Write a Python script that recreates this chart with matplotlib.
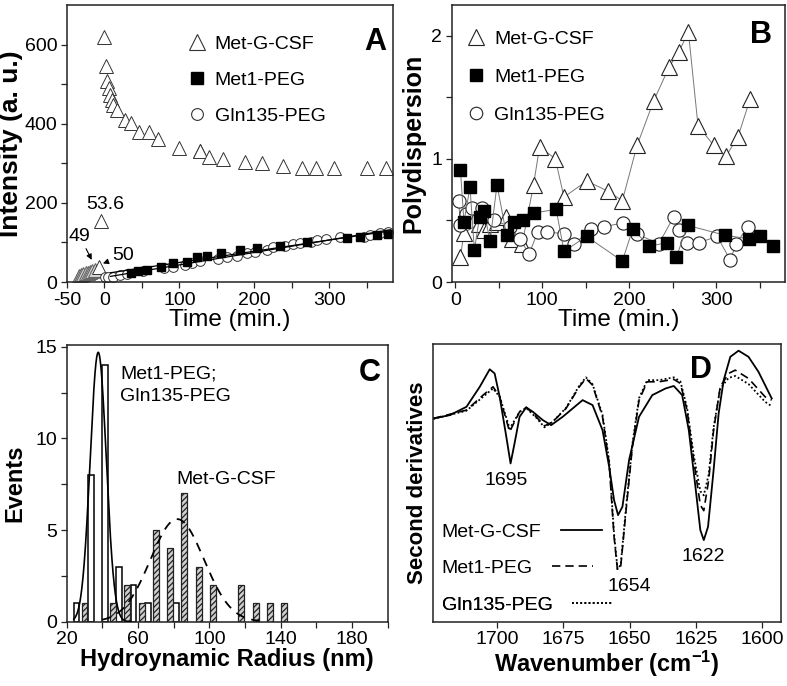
import numpy as np
import matplotlib.pyplot as plt
from matplotlib.lines import Line2D

plt.rcParams['font.family'] = ['Liberation Sans', 'DejaVu Sans']
plt.rcParams['axes.unicode_minus'] = False
plt.rcParams['hatch.linewidth'] = 0.9
plt.rcParams['mathtext.fontset'] = 'custom'
plt.rcParams['mathtext.rm'] = 'Liberation Sans'
plt.rcParams['mathtext.bf'] = 'Liberation Sans:bold'
plt.rcParams['mathtext.it'] = 'Liberation Sans:italic'

# ---- panel A: scattered intensity vs time ----
a_csf_t = [0, 2, 3, 6, 8, 10, 12, 17, 28, 36, 46, 59, 71, 99, 127, 128, 139, 158, 188, 210, 238, 264, 282, 307, 350, 376]
a_csf_i = [619, 545, 507, 490, 473, 461, 448, 435, 410, 402, 380, 380, 361, 338, 332, 330, 317, 311, 303, 300, 292, 289, 287, 287, 287, 287]
a_pre_t = [-34, -31, -28, -25, -22, -19, -16, -13]   # grey triangles before mixing
a_pre_i = [16, 18, 20, 22, 24, 26, 28, 30]
a_p536 = (-5, 155)
a_p50 = (-7, 37)
a_met1_t = [35, 45, 57, 75, 92, 110, 123, 137, 155, 181, 203, 234, 270, 324, 341, 364, 379]
a_met1_i = [22, 27, 30, 39, 47, 51, 64, 66, 73, 81, 87, 91, 102, 111, 113, 119, 121]
a_gln_t = [1, 5, 11, 21, 30, 52, 79, 92, 108, 117, 128, 152, 164, 177, 190, 201, 217, 225, 241, 252, 261, 275, 283, 295, 315, 346, 355, 368, 379]
a_gln_i = [13, 12, 13, 18, 20, 29, 35, 39, 43, 47, 52, 58, 64, 66, 73, 77, 81, 88, 91, 95, 98, 102, 105, 108, 113, 115, 119, 123, 126]

# ---- panel B: polydispersity vs time ----
b_csf_t = [6, 10, 27, 33, 40, 48, 58, 65, 77, 90, 97, 115, 125, 151, 175, 192, 209, 228, 246, 257, 268, 279, 297, 311, 325, 339]
b_csf_p = [0.20, 0.40, 0.47, 0.42, 0.47, 0.49, 0.53, 0.35, 0.31, 0.79, 1.10, 1.00, 0.69, 0.82, 0.74, 0.66, 1.11, 1.47, 1.75, 1.87, 2.03, 1.27, 1.11, 1.02, 1.18, 1.49]
b_met1_t = [6, 10, 17, 22, 28, 33, 40, 48, 59, 67, 78, 90, 116, 125, 151, 192, 204, 223, 243, 254, 267, 310, 338, 350, 365]
b_met1_p = [0.91, 0.49, 0.77, 0.26, 0.53, 0.58, 0.33, 0.79, 0.38, 0.49, 0.50, 0.56, 0.59, 0.25, 0.37, 0.17, 0.43, 0.29, 0.32, 0.20, 0.46, 0.38, 0.35, 0.37, 0.29]
b_gln_t = [4, 6, 12, 19, 31, 45, 63, 74, 85, 95, 105, 125, 137, 156, 171, 193, 209, 234, 251, 257, 266, 280, 301, 316, 323, 336]
b_gln_p = [0.66, 0.46, 0.55, 0.60, 0.60, 0.50, 0.45, 0.35, 0.23, 0.41, 0.41, 0.39, 0.31, 0.43, 0.45, 0.48, 0.39, 0.31, 0.53, 0.42, 0.32, 0.32, 0.37, 0.18, 0.31, 0.45]

# ---- panel C: radius histograms ----
c_peg_r = [25.5, 33.5, 41.5, 49.5, 57.5, 65.5, 81.5]
c_peg_n = [1, 8, 14, 3, 2, 1, 1]
c_csf_r = [30, 46, 54, 62, 70, 78, 86, 94, 102, 118, 126, 134, 142]
c_csf_n = [1, 1, 2, 1, 5, 4, 7, 3, 2, 2, 1, 1, 1]
c_peg_fit = (14.7, 37.7, 4.5)    # amplitude, centre, width of gaussian fit
c_csf_fit = (5.6, 82.0, 15.0)

# ---- panel D: second derivative spectra ----
d_csf_wn = [1724, 1717.75, 1711.5, 1706.5, 1702.75, 1700.9, 1699, 1696.5, 1694.9, 1693.4, 1691.5, 1689, 1686.5, 1682.75,
            1679.6, 1675.25, 1667.75, 1664, 1660.25, 1657.75, 1655.9, 1654.4, 1652.75, 1650.25, 1646.5, 1641.5, 1636.5,
            1633.4, 1630.25, 1627.75, 1625.25, 1623.4, 1622.1, 1620.5, 1618.4, 1616.5, 1614.6, 1612.1, 1609, 1605.25,
            1601.5, 1596.5]
d_csf_v = [73.2, 74.4, 77.4, 84.6, 90.9, 89.4, 81, 66.6, 57, 64.2, 73.8, 77.2, 75.6, 72.6, 70.8, 73.8, 79.8, 78, 69,
           55.8, 43.8, 38.4, 41.4, 58.2, 73.8, 81.6, 84, 84.9, 81.6, 69, 48.6, 33, 29.4, 34.2, 54.6, 75, 87, 95.4, 97.6,
           95.4, 90, 80.4]
d_peg_wn = [1724, 1711.5, 1705.25, 1701.5, 1699, 1696.5, 1695.25, 1693.4, 1691.5, 1689, 1685.25, 1682.1, 1679, 1674,
            1669, 1666.5, 1664, 1660.25, 1657.75, 1655.9, 1654.6, 1653.4, 1651.5, 1649, 1646.5, 1643.4, 1639, 1633.4,
            1630.9, 1628.4, 1625.9, 1623.4, 1622.1, 1620.25, 1618.4, 1615.9, 1612.75, 1610.25, 1605.25, 1599, 1596.5]
d_met1_v = [73.2, 76.2, 81.6, 84.6, 81, 72.6, 68.4, 72, 75.6, 77.2, 73.8, 70.5, 72, 76.8, 84.6, 87.6, 85.2, 73.8, 57,
            30.6, 18.6, 19.8, 39, 63, 79.8, 86.4, 86.4, 87.3, 85.8, 76.2, 58.2, 42, 40, 51, 69, 84.6, 89.4, 90.6, 87.6,
            81, 79.8]
d_gln_v = [73.0, 76.0, 81.0, 84.0, 81, 73.5, 69.5, 72.5, 75.6, 77.0, 73.5, 70.0, 72, 77.0, 85.0, 88.0, 85.5, 74.5,
           58, 31.5, 19.0, 20.5, 40, 64, 80.5, 87.0, 87.0, 88.0, 86.5, 77.0, 60, 47, 45.5, 53, 70, 84.0, 87.8, 88.5,
           85.6, 79.2, 77.6]
d_peaks = [(1696.5, 51, '1695'), (1650.3, 12.6, '1654'), (1622.2, 23.4, '1622')]

TICK = 14
LEG = 14
LETTER = 22

fig = plt.figure(figsize=(7.87, 6.86), dpi=100)
axA = fig.add_axes([0.0851, 0.5889, 0.4142, 0.4038])
axB = fig.add_axes([0.5740, 0.5889, 0.4235, 0.4038])
axC = fig.add_axes([0.0847, 0.0937, 0.4079, 0.4034])
axD = fig.add_axes([0.5506, 0.0937, 0.4418, 0.4048])

for ax in (axA, axB, axC, axD):
    for s in ax.spines.values():
        s.set_linewidth(1.1)
        s.set_color('#222222')
    ax.tick_params(direction='out', length=4, width=0.9, labelsize=TICK, color='#222222', pad=3)
    ax.tick_params(which='minor', direction='out', length=4, width=0.9, color='#222222')

# ---------- A ----------
axA.plot(a_pre_t, a_pre_i, '^', ms=9.5, mfc='#d8d8d8', mec='#666666', mew=0.8, ls='none')
axA.plot(a_csf_t, a_csf_i, '^', ms=10, mfc='white', mec='#333333', mew=0.7, ls='none')
axA.plot(*a_p536, '^', ms=10, mfc='white', mec='#333333', mew=0.7)
axA.plot(*a_p50, '^', ms=10, mfc='white', mec='#333333', mew=0.7)
axA.plot(a_gln_t, a_gln_i, 'o', ms=7, mfc='white', mec='#333333', mew=0.7, ls='none')
axA.plot(a_met1_t, a_met1_i, 's', ms=5.5, mfc='black', mec='black', ls='none')
xx = np.array([8, 382])
for t, v in ((a_met1_t, a_met1_i), (a_gln_t, a_gln_i)):
    k = np.polyfit(t, v, 1)
    axA.plot(xx, np.polyval(k, xx), color='black', lw=0.9)
axA.text(a_p536[0] + 6, a_p536[1] + 40, '53.6', fontsize=TICK, ha='center', va='center')
axA.annotate('49', xy=(-17, 56), xytext=(-33, 116), fontsize=TICK, ha='center', va='center',
             arrowprops=dict(arrowstyle='-|>', mutation_scale=8, lw=0.8, color='black', shrinkA=1, shrinkB=0))
axA.annotate('50', xy=(-2, 47), xytext=(25, 66), fontsize=TICK, ha='center', va='center',
             arrowprops=dict(arrowstyle='-|>', mutation_scale=8, lw=0.8, color='black', shrinkA=2, shrinkB=0))
axA.set_xlim(-50, 385)
axA.set_ylim(0, 700)
axA.set_xticks([-50, 0, 100, 200, 300])
axA.set_xticks([50, 150, 250, 350], minor=True)
axA.set_yticks([0, 200, 400, 600])
axA.set_yticks([100, 300, 500], minor=True)
axA.set_xlabel('Time (min.)', fontsize=17.5, labelpad=0)
axA.set_ylabel('Intensity (a. u.)', fontsize=19, fontweight='bold', labelpad=1)
axA.text(0.945, 0.866, 'A', transform=axA.transAxes, fontsize=LETTER, fontweight='bold', ha='center', va='center')
hA = [Line2D([], [], ls='none', marker='^', ms=11, mfc='white', mec='#333333', mew=0.8),
      Line2D([], [], ls='none', marker='s', ms=9, mfc='black', mec='black'),
      Line2D([], [], ls='none', marker='o', ms=8.5, mfc='white', mec='#333333', mew=0.8)]
axA.legend(hA, ['Met-G-CSF', 'Met1-PEG', 'Gln135-PEG'], loc='upper left', bbox_to_anchor=(0.37, 0.89),
           frameon=False, fontsize=LEG, handlelength=1.0, handletextpad=0.4, labelspacing=0.95,
           borderpad=0, borderaxespad=0)

# ---------- B ----------
grey = '#777777'
axB.plot(b_csf_t, b_csf_p, '-', color=grey, lw=0.7, marker='^', ms=12, mfc='white', mec='#222222', mew=0.8)
axB.plot(b_gln_t, b_gln_p, '-', color=grey, lw=0.7, marker='o', ms=9.5, mfc='white', mec='#222222', mew=0.8)
axB.plot(b_met1_t, b_met1_p, '-', color=grey, lw=0.7, marker='s', ms=8.5, mfc='black', mec='black')
axB.set_xlim(-4, 379)
axB.set_ylim(0, 2.25)
axB.set_xticks([0, 100, 200, 300])
axB.set_xticks([50, 150, 250, 350], minor=True)
axB.set_yticks([0, 1, 2])
axB.set_yticks([0.5, 1.5], minor=True)
axB.set_xlabel('Time (min.)', fontsize=17.5, labelpad=0)
axB.set_ylabel('Polydispersion', fontsize=18, fontweight='bold', labelpad=4)
axB.text(0.928, 0.89, 'B', transform=axB.transAxes, fontsize=LETTER, fontweight='bold', ha='center', va='center')
hB = [Line2D([], [], ls='none', marker='^', ms=12, mfc='white', mec='#222222', mew=0.8),
      Line2D([], [], ls='none', marker='s', ms=9, mfc='black', mec='black'),
      Line2D([], [], ls='none', marker='o', ms=9, mfc='white', mec='#222222', mew=0.8)]
axB.legend(hB, ['Met-G-CSF', 'Met1-PEG', 'Gln135-PEG'], loc='upper left', bbox_to_anchor=(0.045, 0.91),
           frameon=False, fontsize=LEG, handlelength=1.0, handletextpad=0.4, labelspacing=1.05,
           borderpad=0, borderaxespad=0)

# ---------- C ----------
axC.bar(c_peg_r, c_peg_n, width=3.3, facecolor='white', edgecolor='black', linewidth=1.1, zorder=2)
axC.bar(c_csf_r, c_csf_n, width=3.3, facecolor='#cfcfcf', edgecolor='#222222', linewidth=0.9,
        hatch='//////', zorder=2)
r1 = np.linspace(24, 56, 200)
a, m, s = c_peg_fit
axC.plot(r1, a * np.exp(-(r1 - m) ** 2 / (2 * s ** 2)), color='black', lw=1.2, zorder=3)
r2 = np.linspace(40, 128, 200)
a, m, s = c_csf_fit
axC.plot(r2, a * np.exp(-(r2 - m) ** 2 / (2 * s ** 2)), color='black', lw=1.3, ls=(0, (5, 4)), zorder=3)
axC.set_xlim(20, 200)
axC.set_ylim(0, 15.1)
axC.set_xticks([20, 60, 100, 140, 180])
axC.set_xticks([40, 80, 120, 160, 200], minor=True)
axC.set_yticks([0, 5, 10, 15])
axC.set_yticks([2.5, 7.5, 12.5], minor=True)
axC.set_xlabel('Hydroynamic Radius (nm)', fontsize=17, fontweight='bold', labelpad=0)
axC.set_ylabel('Events', fontsize=17, fontweight='bold', labelpad=6)
axC.text(50, 12.9, 'Met1-PEG;\nGln135-PEG', fontsize=LEG, ha='left', va='center', linespacing=1.45)
axC.text(81.6, 7.75, 'Met-G-CSF', fontsize=LEG, ha='left', va='center')
axC.text(0.945, 0.90, 'C', transform=axC.transAxes, fontsize=LETTER, fontweight='bold', ha='center', va='center')

# ---------- D ----------
lc, = axD.plot(d_csf_wn, d_csf_v, color='black', lw=1.3)
lm, = axD.plot(d_peg_wn, d_met1_v, color='black', lw=1.2, ls=(0, (5, 3)))
lg, = axD.plot(d_peg_wn, d_gln_v, color='black', lw=1.3, ls=(0, (1, 1.3)))
for wn, v, lab in d_peaks:
    axD.text(wn, v, lab, fontsize=LEG, ha='center', va='center')
axD.set_xlim(1724, 1593)
axD.set_ylim(0, 100)
axD.set_xticks([1700, 1675, 1650, 1625, 1600])
axD.set_yticks([])
axD.set_xlabel('Wavenumber (cm$^{\\mathbf{-1}}$)', fontsize=17, fontweight='bold', labelpad=0)
axD.set_ylabel('Second derivatives', fontsize=16, fontweight='bold', labelpad=4)
axD.text(0.77, 0.906, 'D', transform=axD.transAxes, fontsize=LETTER, fontweight='bold', ha='center', va='center')
for h, lab, y in ((lc, 'Met-G-CSF', 0.324), (lm, 'Met1-PEG', 0.192), (lg, 'Gln135-PEG', 0.06)):
    leg = axD.legend([h], [lab], loc='center left', bbox_to_anchor=(0.024, y), frameon=False, fontsize=LEG,
                     markerfirst=False, handlelength=2.1, handletextpad=1.0, borderpad=0, borderaxespad=0)
    axD.add_artist(leg)

fig.savefig('out.png', dpi=100)
